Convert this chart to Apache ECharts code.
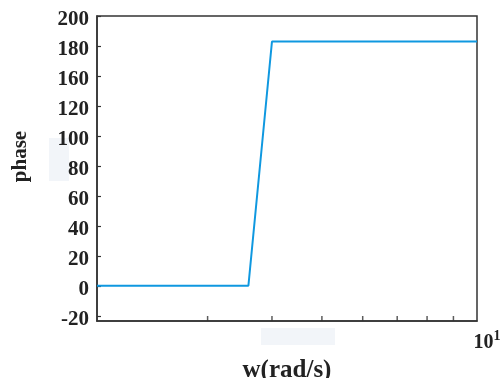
<!DOCTYPE html>
<html>
<head>
<meta charset="utf-8">
<script src="https://cdn.jsdelivr.net/npm/echarts@6/dist/echarts.min.js"></script>
<style>html,body{margin:0;padding:0;background:#fff}#c{width:500px;height:378px}</style>
</head>
<body>
<div id="c"></div>
<script>
// frequency w (rad/s) and phase values
var wValues = [1.83, 3.6, 4.0, 10];
var phaseValues = [0, 0, 163, 163];
// y tick positions (linear) and the tick label texts shown at them
var yTickValues = [-20, 0, 20, 40, 60, 80, 100, 120, 140, 160, 180];
var yTickLabels = ['-20', '0', '20', '40', '60', '80', '100', '120', '160', '180', '200'];
// x minor tick values on the log axis
var xMinorTicks = [3, 4, 5, 6, 7, 8, 9];
var xMin = 1.83, xMax = 10, yMin = -23.5, yMax = 180;

var serif = '"Liberation Serif","DejaVu Serif",serif';
var chart = echarts.init(document.getElementById('c'), null, {renderer: 'canvas'});
chart.setOption({
  animation: false,
  backgroundColor: '#fff',
  graphic: [
    {type: 'rect', shape: {x: 49, y: 138, width: 20, height: 43}, style: {fill: '#f2f5f9'}, z: -1},
    {type: 'rect', shape: {x: 261, y: 328, width: 74, height: 17}, style: {fill: '#f2f5f9'}, z: -1}
  ],
  grid: {left: 97, right: 23, top: 16, bottom: 57, outerBoundsMode: 'none', containLabel: false,
    show: true, borderColor: '#333', borderWidth: 1.5, backgroundColor: 'transparent'},
  xAxis: {
    type: 'log', logBase: 10, min: xMin, max: xMax,
    name: 'w(rad/s)', nameLocation: 'middle', nameGap: 32,
    nameTextStyle: {fontFamily: serif, fontWeight: 'bold', fontSize: 25, color: '#222'},
    axisLine: {show: true, onZero: false, lineStyle: {color: '#333', width: 1.5}},
    axisTick: {show: false},
    splitLine: {show: false},
    minorTick: {show: false},
    axisLabel: {
      showMinLabel: false, margin: 8,
      padding: [0, 0, 0, 20],
      formatter: function (v) { return Math.abs(v - 10) < 1e-6 ? '{b|10}{s|1}' : ''; },
      rich: {
        b: {fontFamily: serif, fontWeight: 'bold', fontSize: 20, color: '#222'},
        s: {fontFamily: serif, fontWeight: 'bold', fontSize: 14, color: '#222', verticalAlign: 'top', padding: [0, 0, 14, 0]}
      }
    }
  },
  yAxis: {
    type: 'value', min: yMin, max: yMax, splitNumber: 10,
    name: 'phase', nameLocation: 'middle', nameGap: 66, nameRotate: 90,
    nameTextStyle: {fontFamily: serif, fontWeight: 'bold', fontSize: 21, color: '#222', padding: [0, 0, 0, 24]},
    axisLine: {show: true, onZero: false, lineStyle: {color: '#333', width: 1.5}},
    axisTick: {show: true, inside: true, length: 4, lineStyle: {color: '#333', width: 1.2}},
    splitLine: {show: false},
    axisLabel: {
      showMinLabel: false, margin: 8,
      formatter: function (v) { var i = yTickValues.indexOf(v); return i >= 0 ? '{a|' + yTickLabels[i] + '}' : ''; },
      rich: {
        a: {fontFamily: serif, fontWeight: 'bold', fontSize: 21, color: '#222', padding: [8, 0, 0, 0]}
      }
    }
  },
  series: [
    {
      type: 'line', showSymbol: false, symbol: 'none',
      lineStyle: {color: '#0f98e0', width: 2},
      data: wValues.map(function (w, i) { return [w, phaseValues[i]]; }),
      z: 3
    },
    {
      type: 'scatter', silent: true,
      symbol: 'rect', symbolSize: [1.5, 5], symbolOffset: [0, -2.5],
      itemStyle: {color: '#333'},
      data: xMinorTicks.map(function (w) { return [w, yMin]; }),
      z: 4
    }
  ]
});
</script>
</body>
</html>
